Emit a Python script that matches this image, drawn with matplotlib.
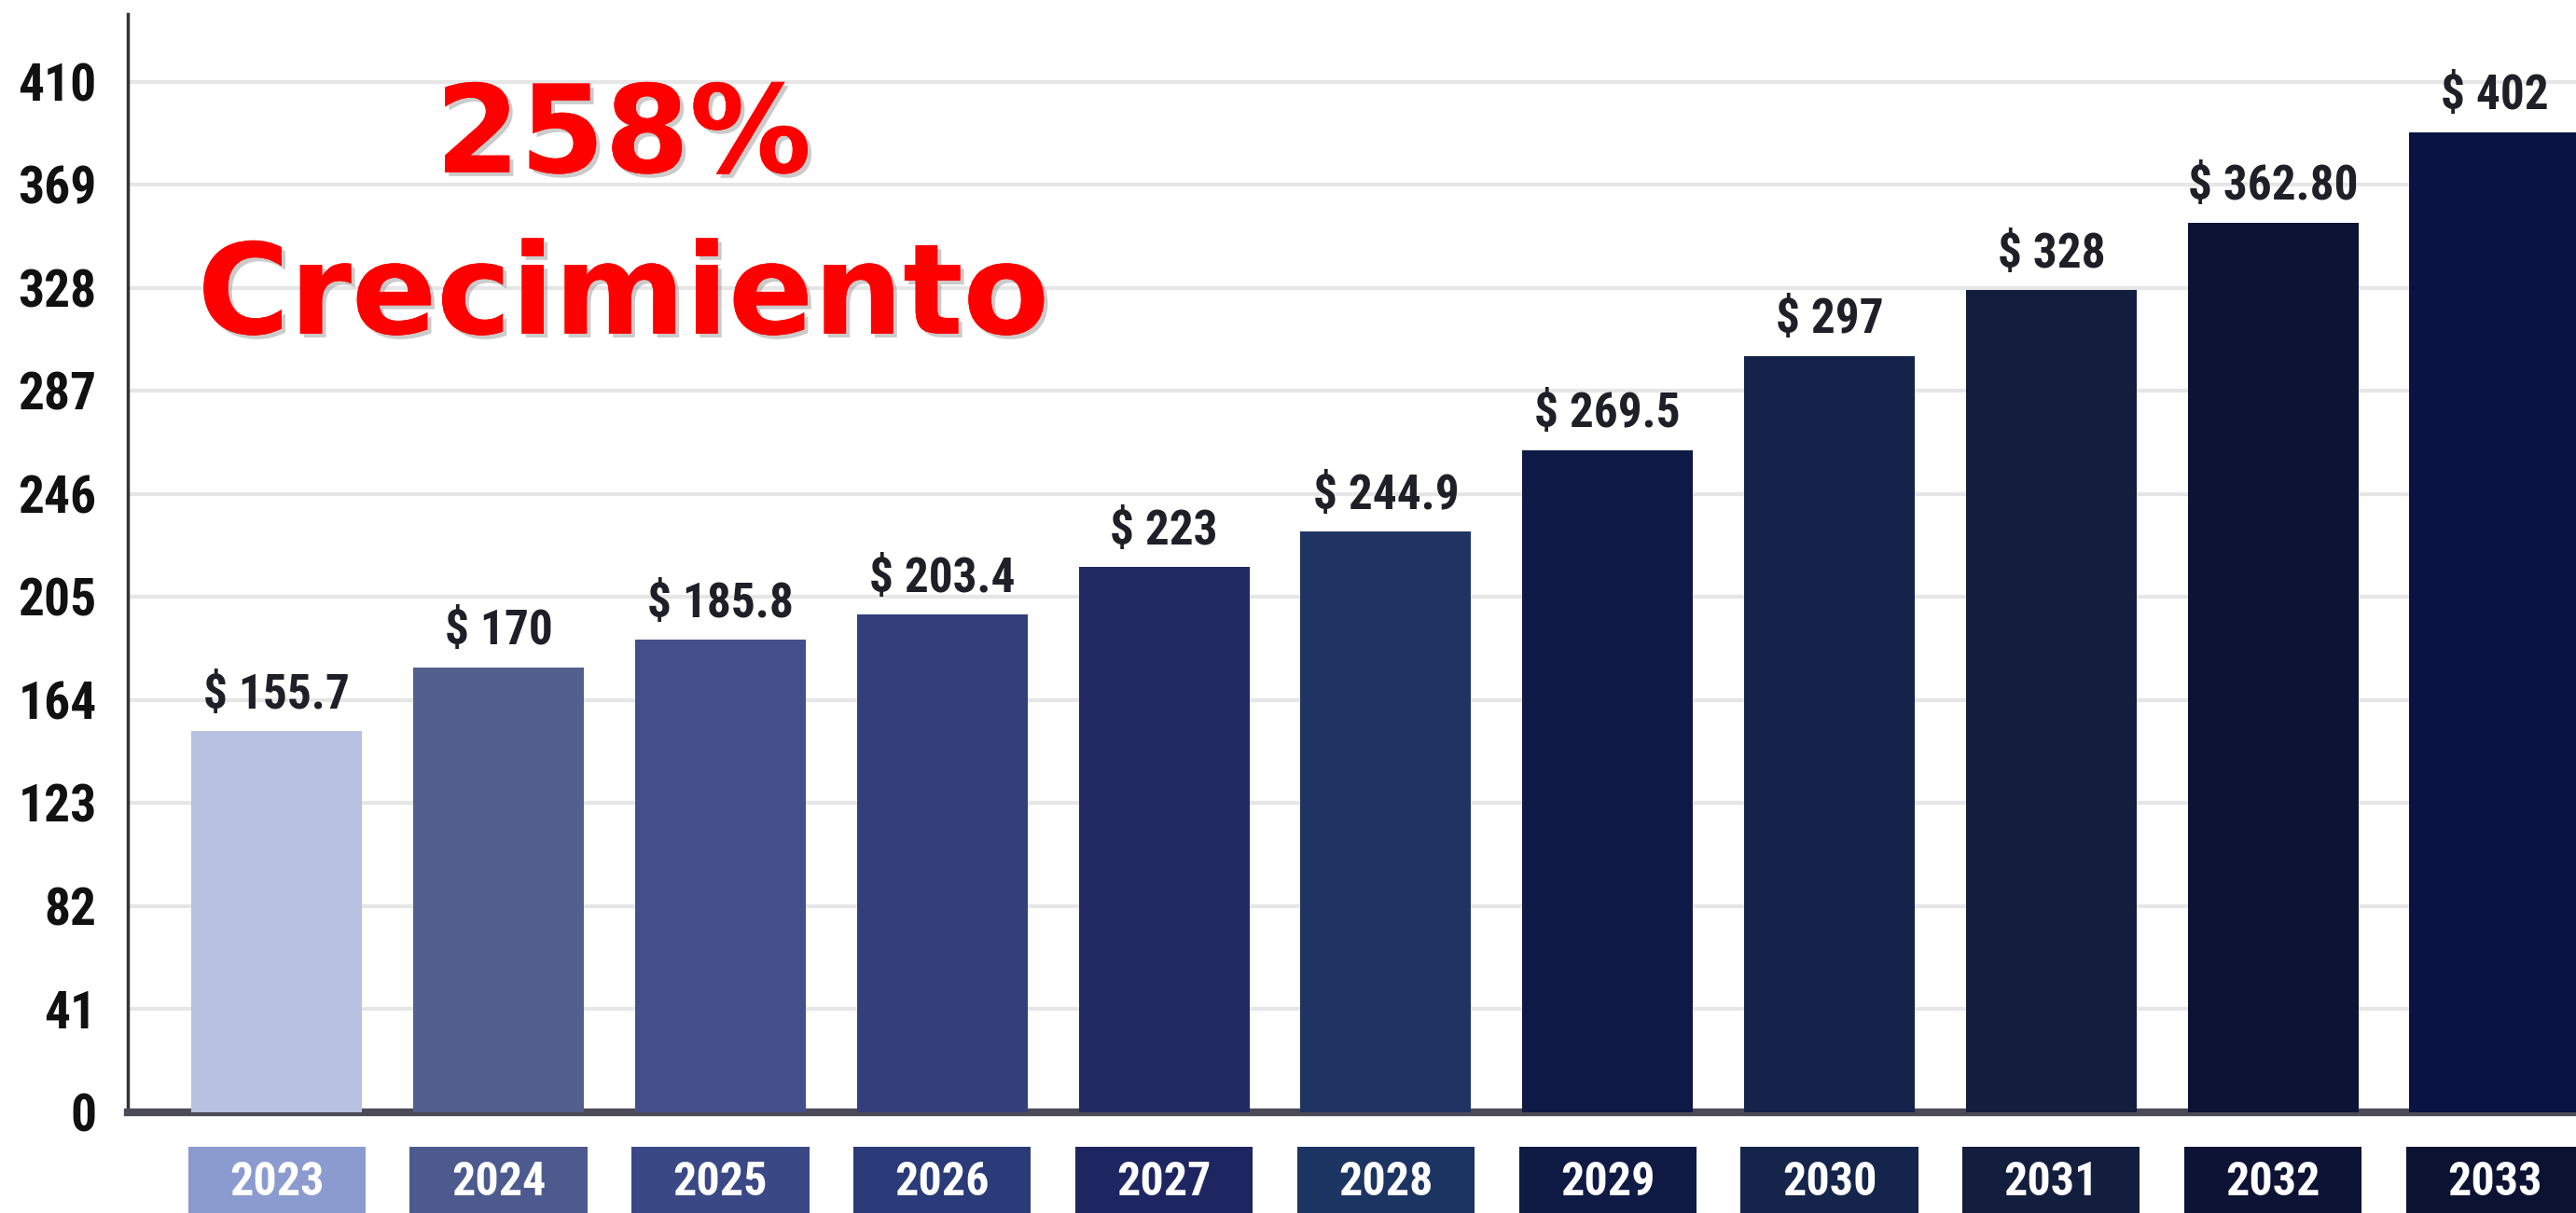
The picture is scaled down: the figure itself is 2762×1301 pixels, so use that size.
import matplotlib.pyplot as plt
import matplotlib.patheffects as pe

years = ["2023", "2024", "2025", "2026", "2027", "2028",
         "2029", "2030", "2031", "2032", "2033"]
# bar heights as drawn in the picture (the original bars do not match their labels exactly)
heights = [151.7, 177, 188, 198, 217, 231, 263.5, 301, 327, 354, 390]
value_labels = ["$ 155.7", "$ 170", "$ 185.8", "$ 203.4", "$ 223", "$ 244.9",
                "$ 269.5", "$ 297", "$ 328", "$ 362.80", "$ 402"]
yticks = [0, 41, 82, 123, 164, 205, 246, 287, 328, 369, 410]

bar_colors = ["#b9c1e2", "#535f8e", "#434f8a", "#323f7a", "#222a63", "#1f3463",
              "#0e1a45", "#15234a", "#131d3e", "#0c1335", "#0a1442"]
box_colors = ["#8b9bd0", "#4d5a8e", "#3a4886", "#2b3a78", "#1d2660", "#1c3462",
              "#0f1a45", "#14244a", "#131d3e", "#0c1335", "#0c1232"]

narrow = ["Roboto Condensed", "Liberation Sans Narrow", "DejaVu Sans"]

fig = plt.figure(figsize=(27.62, 13.01), dpi=100)
ax = fig.add_axes([0.0496, 0.083, 0.9504, 0.9055])

x = list(range(len(years)))
ax.bar(x, heights, width=0.77, color=bar_colors, zorder=3)

# year boxes below the axis
ax.bar(x, [-40] * len(x), bottom=-13.7, width=0.8, color=box_colors,
       clip_on=False, zorder=3)
for i, y in enumerate(years):
    ax.text(i, -28, y, ha="center", va="center", color="white", fontsize=36,
            family=narrow, fontweight="bold", clip_on=False, zorder=4)

for i, (h, lab) in enumerate(zip(heights, value_labels)):
    ax.text(i, h + 5, lab, ha="center", va="bottom", fontsize=37,
            family=narrow, fontweight="bold", color="#1f1f28", zorder=4)

ax.set_xlim(-0.672, 10.366)
ax.set_ylim(0, 437)
ax.set_yticks(yticks)
ax.set_yticklabels([str(t) for t in yticks], fontsize=40, family=narrow,
                   fontweight="bold", color="#111111")
ax.tick_params(axis="y", length=0, pad=24)
ax.set_xticks([])
ax.grid(axis="y", color="#e6e6e6", linewidth=3, zorder=0)

for s in ["top", "right"]:
    ax.spines[s].set_visible(False)
ax.spines["left"].set_color("#333333")
ax.spines["left"].set_linewidth(2.5)
ax.spines["bottom"].set_color("#4b4b57")
ax.spines["bottom"].set_linewidth(6)

shadow = [pe.withSimplePatchShadow(offset=(3, -3), shadow_rgbFace="#999999", alpha=0.5),
          pe.Normal()]
fig.text(0.242, 0.858, "258%", ha="center", va="baseline", color="#ff0000",
         fontsize=94, family="DejaVu Sans", fontweight="bold",
         path_effects=shadow)
fig.text(0.242, 0.725, "Crecimiento", ha="center", va="baseline", color="#ff0000",
         fontsize=97, family="DejaVu Sans", fontweight="bold",
         path_effects=shadow)

fig.savefig("out.png", dpi=100)
